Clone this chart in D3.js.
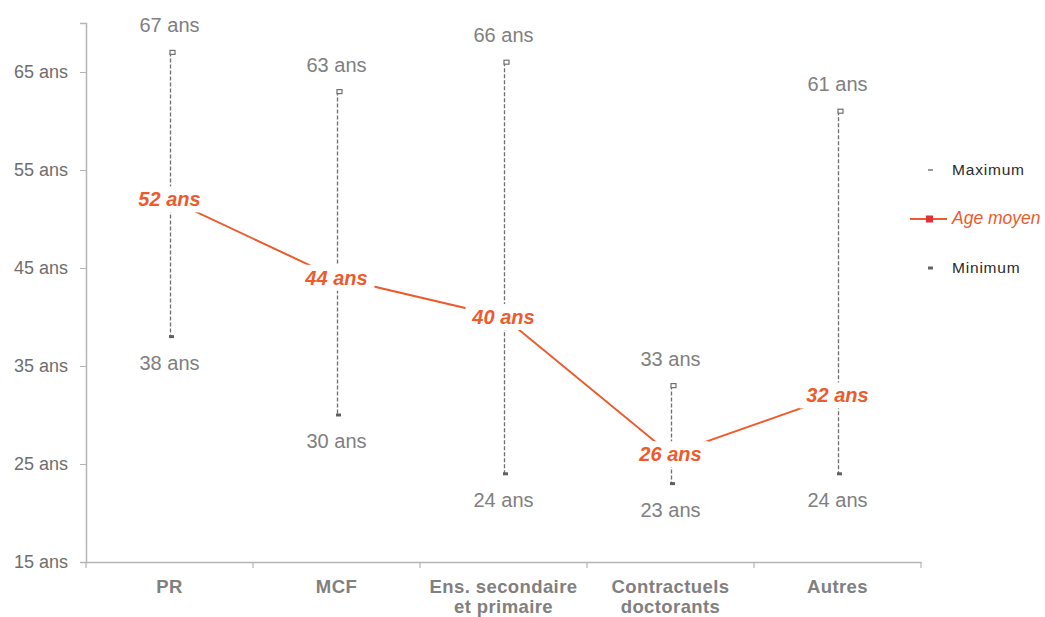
<!DOCTYPE html>
<html><head><meta charset="utf-8">
<script src="https://cdn.jsdelivr.net/npm/d3@7"></script>
<style>body{margin:0;background:#fff;font-family:"Liberation Sans",Arial,sans-serif}</style>
</head><body><svg id="c" width="1045" height="617"></svg>
<script>
const categories = [["PR"],["MCF"],["Ens. secondaire","et primaire"],["Contractuels","doctorants"],["Autres"]];
const maxValues = [67, 63, 66, 33, 61];
const minValues = [38, 30, 24, 23, 24];
const meanValues = [52, 44, 40, 26, 32];
const yTicks = [15, 25, 35, 45, 55, 65];
const legendItems = ["Maximum", "Age moyen", "Minimum"];

const svg = d3.select("#c");
const orange = "#ee5a2c";
const grey = "#808080";
const x = d3.scaleBand().domain(d3.range(categories.length)).range([86, 921]);
const y = d3.scaleLinear().domain([15, 70]).range([562, 23]);
const cx = i => x(i) + x.bandwidth() / 2;

// Y axis
const ya = svg.append("g").attr("transform", "translate(86,0)")
  .call(d3.axisLeft(y).tickValues(yTicks).tickSize(6).tickFormat(d => d + " ans"));
ya.select(".domain").attr("stroke", "#b5b5b5").attr("stroke-width", 1.5);
ya.selectAll(".tick line").attr("stroke", "#b5b5b5");
ya.selectAll(".tick text").attr("x", -18).attr("fill", "#6e6e6e")
  .style("font-size", "18px").style("font-family", "Liberation Sans, Arial, sans-serif");

// X axis
const xa = svg.append("g").attr("transform", "translate(0,562)")
  .call(d3.axisBottom(x).tickSize(0).tickFormat(""));
xa.select(".domain").attr("stroke", "#b5b5b5").attr("stroke-width", 1.5);
const bounds = d3.range(categories.length + 1).map(i => i < categories.length ? x(i) : x(categories.length - 1) + x.bandwidth());
svg.selectAll(".xt").data(bounds).enter().append("line")
  .attr("x1", d => d).attr("x2", d => d).attr("y1", 562).attr("y2", 568)
  .attr("stroke", "#b5b5b5").attr("stroke-width", 1.2);
svg.selectAll(".xl").data(categories).enter().append("text")
  .attr("x", (d, i) => cx(i)).attr("y", 593).attr("text-anchor", "middle")
  .attr("fill", grey).style("font-size", "18.5px").style("font-weight", "bold")
  .style("letter-spacing", "0.4px")
  .each(function(d) {
    d.forEach((t, k) => d3.select(this).append("tspan").attr("x", cx(categories.indexOf(d))).attr("dy", k ? 20 : 0).text(t));
  });

// Range dashed lines
svg.selectAll(".rng").data(maxValues).enter().append("line")
  .attr("x1", (d, i) => cx(i) + 1).attr("x2", (d, i) => cx(i) + 1)
  .attr("y1", d => y(d)).attr("y2", (d, i) => y(minValues[i]))
  .attr("stroke", "#6e6e6e").attr("stroke-width", 1.3).attr("stroke-dasharray", "4,2");
// Max markers
svg.selectAll(".mx").data(maxValues).enter().append("rect")
  .attr("x", (d, i) => cx(i) + 0.5).attr("y", d => y(d) - 2)
  .attr("width", 5).attr("height", 4).attr("fill", "#fff").attr("stroke", "#707070").attr("stroke-width", 1.2);
// Min markers
svg.selectAll(".mn").data(minValues).enter().append("rect")
  .attr("x", (d, i) => cx(i) - 0.5).attr("y", d => y(d) - 1.5)
  .attr("width", 5).attr("height", 3).attr("fill", "#606060");
// Max/min labels
svg.selectAll(".mxl").data(maxValues).enter().append("text")
  .attr("x", (d, i) => cx(i)).attr("y", d => y(d) - 20).attr("text-anchor", "middle")
  .attr("fill", grey).style("font-size", "20px").text(d => d + " ans");
svg.selectAll(".mnl").data(minValues).enter().append("text")
  .attr("x", (d, i) => cx(i)).attr("y", d => y(d) + 33).attr("text-anchor", "middle")
  .attr("fill", grey).style("font-size", "20px").text(d => d + " ans");

// Mean line
const line = d3.line().x((d, i) => cx(i)).y(d => y(d));
svg.append("path").datum(meanValues).attr("d", line)
  .attr("fill", "none").attr("stroke", orange).attr("stroke-width", 2);
svg.selectAll(".mbg").data(meanValues).enter().append("rect")
  .attr("x", (d, i) => cx(i) - 38).attr("y", d => y(d) - 13)
  .attr("width", 76).attr("height", 26).attr("fill", "#fff");
svg.selectAll(".ml").data(meanValues).enter().append("text")
  .attr("x", (d, i) => cx(i)).attr("y", d => y(d) + 7).attr("text-anchor", "middle")
  .attr("fill", orange).style("font-size", "20px").style("font-weight", "bold").style("font-style", "italic")
  .text(d => d + " ans");

// Legend
const lg = svg.append("g");
const ly = [170, 219, 268];
lg.append("rect").attr("x", 928).attr("y", ly[0] - 1).attr("width", 5).attr("height", 2).attr("fill", "#999");
lg.append("line").attr("x1", 910).attr("x2", 947).attr("y1", ly[1]).attr("y2", ly[1]).attr("stroke", orange).attr("stroke-width", 2);
lg.append("rect").attr("x", 926).attr("y", ly[1] - 3.5).attr("width", 7).attr("height", 7).attr("fill", "#e0303a");
lg.append("rect").attr("x", 928).attr("y", ly[2] - 1.5).attr("width", 5).attr("height", 3).attr("fill", "#666");
lg.selectAll(".lt").data(legendItems).enter().append("text")
  .attr("x", 952).attr("y", (d, i) => ly[i] + 5)
  .attr("fill", (d, i) => i === 1 ? orange : "#2a2a2a")
  .style("font-size", (d, i) => i === 1 ? "17.5px" : "15.5px")
  .style("font-style", (d, i) => i === 1 ? "italic" : "normal")
  .style("letter-spacing", (d, i) => i === 1 ? "0px" : "0.8px")
  .text(d => d);
</script></body></html>
